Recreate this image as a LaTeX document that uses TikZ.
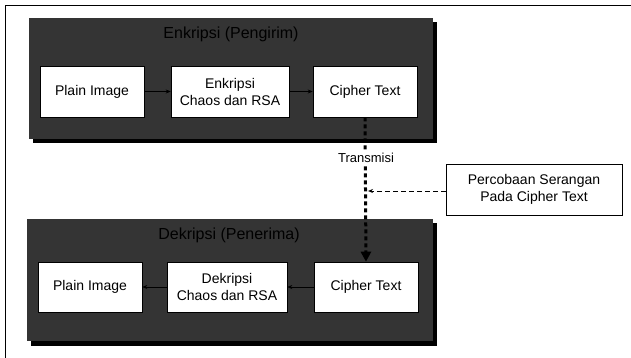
\documentclass[tikz,border=0pt]{standalone}
\usepackage{fontspec}
\setmainfont{Liberation Sans}
\usepackage{tikz}
\usetikzlibrary{arrows.meta}
\definecolor{panelgray}{RGB}{52,52,52}

\begin{document}
\begin{tikzpicture}[x=1pt, y=-1pt, line width=0.6pt,
    box/.style={draw, fill=white, inner sep=0pt, align=center,
                minimum height=51pt, font=\fontsize{14}{17}\selectfont},
    panel/.style={fill=panelgray},
    shadow/.style={fill=black},
    title/.style={font=\fontsize{16}{18}\selectfont, text=black}]
        \clip (0,0) rectangle (631,358);
        \fill[white] (0,0) rectangle (631,358);
        \draw[line width=1.6pt] (5.5,380) -- (5.5,5.5) -- (650,5.5);

        % panels
        \fill[shadow] (33,22)  rectangle (437,143);
        \fill[panel]  (29,18)  rectangle (433,139);
        \fill[shadow] (31,223) rectangle (437,346);
        \fill[panel]  (27,219) rectangle (433,341);

        \node[title](enc) at (231, 34) {Enkripsi (Pengirim)};
        \node[title](dec) at (229,235) {Dekripsi (Penerima)};

        \node[box, minimum width=104pt](plainA)  at (92, 91.5) {Plain Image};
        \node[box, minimum width=118pt](encA)    at (230,91.5) {Enkripsi\\Chaos dan RSA};
        \node[box, minimum width=104pt](cipherA) at (365,91.5) {Cipher Text};

        \node[box, minimum width=104pt, minimum height=50pt](plainB)  at (90, 287) {Plain Image};
        \node[box, minimum width=120pt, minimum height=50pt](decB)    at (227,287) {Dekripsi\\Chaos dan RSA};
        \node[box, minimum width=104pt, minimum height=50pt](cipherB) at (366,287) {Cipher Text};

        \node[box, minimum width=176pt](attack) at (534,189.5) {Percobaan Serangan\\Pada Cipher Text};

        \draw[-{Stealth[length=5pt,width=4pt]}] (plainA) -- (encA);
        \draw[-{Stealth[length=5pt,width=4pt]}] (encA) -- (cipherA);
        \draw[-{Stealth[length=5pt,width=4pt]}] (cipherB) -- (decB);
        \draw[-{Stealth[length=5pt,width=4pt]}] (decB) -- (plainB);

        \draw[line width=3pt, dash pattern=on 4pt off 3pt, -{Triangle[length=10pt,width=10pt]}]
            (cipherA.south) -- (cipherB.north);
        \node[fill=white, inner sep=1pt, font=\fontsize{13}{15}\selectfont](trans) at (366,158) {Transmisi};

        \coordinate (hit) at (368,191);
        \draw[line width=1pt, dash pattern=on 5pt off 3pt, -{Stealth[length=5pt,width=4pt]}]
            (attack.west |- hit) -- (hit);
      \end{tikzpicture}
\end{document}
